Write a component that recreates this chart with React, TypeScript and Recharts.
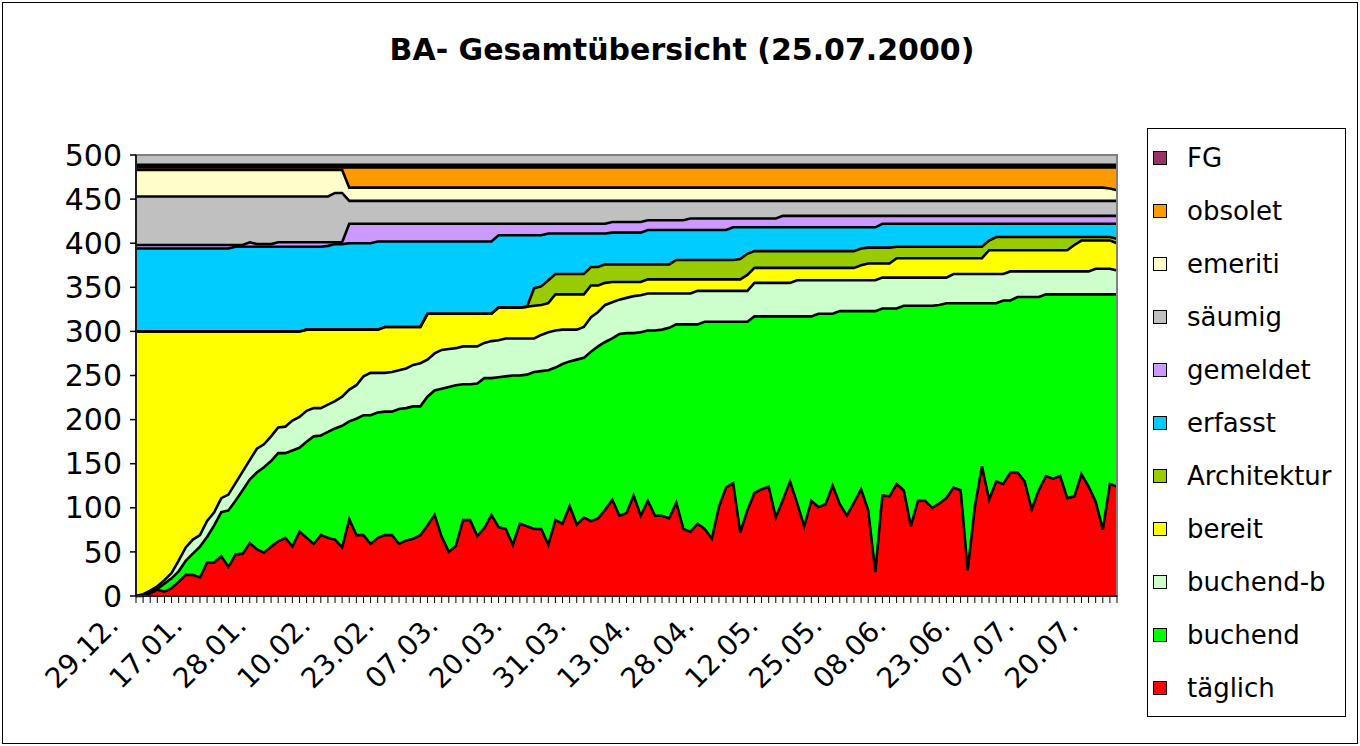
import React from "react";
import { AreaChart, Area, XAxis, YAxis, CartesianGrid, ReferenceArea } from "recharts";

const FONT = "'DejaVu Sans', Verdana, sans-serif";

// Arbeitstage 29.12.1999 - 25.07.2000
const dates = [
	"29.12.", "30.12.", "03.01.", "04.01.", "05.01.", "10.01.", "11.01.", "12.01.", "14.01.", "17.01.",
	"18.01.", "19.01.", "20.01.", "21.01.", "24.01.", "25.01.", "26.01.", "27.01.", "28.01.", "31.01.",
	"01.02.", "02.02.", "03.02.", "04.02.", "07.02.", "08.02.", "09.02.", "10.02.", "11.02.", "14.02.",
	"15.02.", "16.02.", "17.02.", "18.02.", "21.02.", "22.02.", "23.02.", "24.02.", "25.02.", "28.02.",
	"29.02.", "01.03.", "02.03.", "03.03.", "06.03.", "07.03.", "08.03.", "09.03.", "10.03.", "13.03.",
	"14.03.", "15.03.", "16.03.", "17.03.", "20.03.", "21.03.", "22.03.", "23.03.", "24.03.", "27.03.",
	"28.03.", "29.03.", "30.03.", "31.03.", "03.04.", "04.04.", "05.04.", "06.04.", "07.04.", "10.04.",
	"11.04.", "12.04.", "13.04.", "14.04.", "17.04.", "18.04.", "19.04.", "20.04.", "25.04.", "26.04.",
	"27.04.", "28.04.", "02.05.", "03.05.", "04.05.", "05.05.", "08.05.", "09.05.", "10.05.", "11.05.",
	"12.05.", "15.05.", "16.05.", "17.05.", "18.05.", "19.05.", "22.05.", "23.05.", "24.05.", "25.05.",
	"26.05.", "29.05.", "30.05.", "31.05.", "02.06.", "05.06.", "06.06.", "07.06.", "08.06.", "09.06.",
	"13.06.", "14.06.", "15.06.", "16.06.", "19.06.", "20.06.", "21.06.", "23.06.", "26.06.", "27.06.",
	"28.06.", "29.06.", "30.06.", "03.07.", "04.07.", "05.07.", "07.07.", "10.07.", "11.07.", "12.07.",
	"13.07.", "14.07.", "17.07.", "18.07.", "19.07.", "20.07.", "21.07.", "24.07.", "25.07.",
];

const tickLabels = [
	"29.12.", "17.01.", "28.01.", "10.02.", "23.02.", "07.03.", "20.03.", "31.03.",
	"13.04.", "28.04.", "12.05.", "25.05.", "08.06.", "23.06.", "07.07.", "20.07.",
];

const yTicks = [0, 50, 100, 150, 200, 250, 300, 350, 400, 450, 500];

const taeglich = [
	0, 0, 3, 7, 5, 9, 16, 24, 24, 21,
	38, 38, 45, 33, 47, 48, 60, 53, 49, 56,
	62, 66, 56, 73, 66, 59, 69, 66, 64, 55,
	87, 69, 69, 59, 66, 69, 69, 59, 63, 65,
	69, 80, 92, 67, 50, 57, 86, 86, 68, 77,
	92, 78, 76, 58, 82, 79, 76, 76, 58, 86,
	82, 102, 81, 89, 85, 88, 98, 109, 91, 94,
	114, 91, 108, 91, 91, 88, 106, 76, 73, 82,
	76, 65, 101, 123, 128, 72, 97, 117, 121, 124,
	89, 109, 130, 105, 79, 108, 101, 104, 125, 104,
	91, 106, 121, 97, 27, 114, 113, 127, 120, 79,
	108, 108, 100, 105, 111, 123, 120, 29, 101, 147,
	109, 130, 127, 140, 140, 130, 98, 120, 136, 133,
	136, 111, 113, 138, 124, 107, 75, 127, 124,
];

const buchend = [
	0, 1, 1, 1, 9, 11, 12, 16, 24, 35,
	29, 42, 50, 64, 61, 72, 72, 87, 97, 97,
	100, 96, 109, 95, 109, 122, 113, 120, 126, 138,
	111, 132, 136, 146, 142, 140, 140, 153, 150, 150,
	146, 146, 141, 168, 187, 182, 154, 154, 173, 170,
	155, 170, 173, 192, 168, 172, 178, 179, 198, 173,
	181, 164, 187, 181, 192, 195, 190, 183, 206, 204,
	184, 208, 193, 210, 211, 216, 202, 232, 235, 226,
	235, 246, 210, 188, 183, 239, 214, 200, 196, 193,
	228, 208, 187, 212, 238, 209, 219, 216, 195, 219,
	232, 217, 202, 226, 296, 212, 213, 199, 209, 250,
	221, 221, 229, 225, 221, 209, 212, 303, 231, 185,
	223, 202, 208, 195, 199, 209, 241, 219, 206, 209,
	206, 231, 229, 204, 218, 235, 267, 215, 218,
];

const buchendB = [
	0, 1, 2, 3, 4, 6, 12, 15, 16, 13,
	18, 15, 16, 18, 20, 21, 22, 27, 26, 28,
	29, 30, 34, 35, 35, 32, 31, 31, 31, 33,
	36, 38, 44, 48, 45, 44, 45, 44, 45, 47,
	49, 42, 42, 44, 43, 42, 43, 43, 42, 40,
	42, 42, 43, 42, 42, 41, 38, 41, 43, 42,
	39, 36, 34, 35, 39, 39, 42, 41, 39, 40,
	42, 42, 42, 42, 41, 39, 35, 35, 35, 38,
	35, 35, 35, 35, 35, 35, 35, 38, 38, 38,
	38, 38, 38, 41, 41, 41, 38, 38, 38, 35,
	35, 35, 35, 35, 35, 35, 35, 35, 32, 32,
	32, 32, 32, 31, 29, 33, 33, 33, 33, 33,
	33, 33, 30, 33, 29, 29, 29, 29, 26, 26,
	26, 26, 26, 26, 26, 29, 29, 29, 27,
];

const bereit = [
	300, 298, 294, 289, 282, 274, 260, 245, 236, 231,
	215, 205, 189, 185, 172, 159, 146, 133, 128, 119,
	109, 108, 101, 97, 92, 89, 89, 85, 81, 76,
	68, 63, 53, 49, 49, 52, 51, 49, 47, 43,
	41, 52, 45, 41, 40, 39, 37, 37, 37, 33,
	31, 37, 35, 35, 35, 36, 37, 34, 33, 41,
	40, 40, 40, 37, 36, 30, 25, 23, 20, 18,
	16, 15, 16, 16, 16, 16, 16, 16, 16, 13,
	13, 13, 13, 13, 13, 13, 18, 17, 17, 17,
	17, 17, 17, 14, 14, 14, 14, 14, 14, 14,
	14, 14, 17, 19, 19, 16, 16, 22, 22, 22,
	22, 22, 22, 22, 22, 18, 18, 18, 18, 18,
	27, 27, 27, 24, 24, 24, 24, 24, 24, 24,
	24, 24, 30, 35, 35, 32, 32, 32, 31,
];

const architektur = [
	0, 0, 0, 0, 0, 0, 0, 0, 0, 0,
	0, 0, 0, 0, 0, 0, 0, 0, 0, 0,
	0, 0, 0, 0, 0, 0, 0, 0, 0, 0,
	0, 0, 0, 0, 0, 0, 0, 0, 0, 0,
	0, 0, 0, 0, 0, 0, 0, 0, 0, 0,
	0, 0, 0, 0, 0, 0, 20, 21, 26, 23,
	23, 23, 23, 23, 21, 21, 21, 20, 20, 20,
	20, 20, 17, 17, 17, 17, 22, 22, 22, 22,
	22, 22, 22, 22, 22, 23, 24, 19, 19, 19,
	19, 19, 19, 19, 19, 19, 19, 19, 19, 19,
	19, 19, 19, 18, 18, 18, 18, 13, 13, 13,
	13, 13, 13, 13, 13, 13, 13, 13, 13, 13,
	11, 15, 15, 15, 15, 15, 15, 15, 15, 15,
	15, 15, 9, 4, 4, 4, 4, 4, 5,
];

const erfasst = [
	94, 94, 94, 94, 94, 94, 94, 94, 94, 94,
	94, 94, 94, 94, 96, 96, 96, 96, 96, 96,
	96, 96, 96, 96, 94, 94, 94, 95, 97, 97,
	98, 98, 98, 98, 100, 97, 97, 97, 97, 97,
	97, 82, 82, 82, 82, 82, 82, 82, 82, 82,
	82, 82, 82, 82, 82, 81, 60, 58, 53, 46,
	46, 46, 46, 46, 38, 38, 35, 36, 36, 36,
	36, 36, 39, 39, 39, 39, 34, 34, 34, 34,
	34, 34, 34, 34, 37, 36, 30, 27, 27, 27,
	27, 27, 27, 27, 27, 27, 27, 27, 27, 27,
	27, 27, 24, 23, 23, 27, 27, 26, 26, 26,
	26, 26, 26, 26, 26, 26, 26, 26, 26, 26,
	19, 15, 15, 15, 15, 15, 15, 15, 15, 15,
	15, 15, 15, 15, 15, 15, 15, 15, 17,
];

const gemeldet = [
	4, 4, 4, 4, 4, 4, 4, 4, 4, 4,
	4, 4, 4, 4, 2, 2, 5, 3, 3, 3,
	5, 5, 5, 5, 5, 5, 5, 4, 2, 2,
	22, 22, 22, 22, 20, 20, 20, 20, 20, 20,
	20, 20, 20, 20, 20, 20, 20, 20, 20, 20,
	20, 13, 13, 13, 13, 13, 13, 13, 11, 11,
	11, 11, 11, 11, 11, 11, 11, 12, 12, 12,
	12, 12, 11, 11, 11, 11, 11, 11, 13, 13,
	13, 13, 13, 13, 10, 10, 10, 10, 10, 10,
	10, 13, 13, 13, 13, 13, 13, 13, 13, 13,
	13, 13, 13, 13, 13, 9, 9, 9, 9, 9,
	9, 9, 9, 9, 9, 9, 9, 9, 9, 9,
	9, 9, 9, 9, 9, 9, 9, 9, 9, 9,
	9, 9, 9, 9, 9, 9, 9, 9, 9,
];

const saeumig = [
	55, 55, 55, 55, 55, 55, 55, 55, 55, 55,
	55, 55, 55, 55, 55, 55, 52, 54, 54, 54,
	52, 52, 52, 52, 52, 52, 52, 52, 56, 56,
	26, 26, 26, 26, 26, 26, 26, 26, 26, 26,
	26, 26, 26, 26, 26, 26, 26, 26, 26, 26,
	26, 26, 26, 26, 26, 26, 26, 26, 26, 26,
	26, 26, 26, 26, 26, 26, 26, 24, 24, 24,
	24, 24, 22, 22, 22, 22, 22, 22, 20, 20,
	20, 20, 20, 20, 20, 20, 20, 20, 20, 20,
	20, 17, 17, 17, 17, 17, 17, 17, 17, 17,
	17, 17, 17, 17, 17, 17, 17, 17, 17, 17,
	17, 17, 17, 17, 17, 17, 17, 17, 17, 17,
	17, 17, 17, 17, 17, 17, 17, 17, 17, 17,
	17, 17, 17, 17, 17, 17, 17, 17, 17,
];

const emeriti = [
	30, 30, 30, 30, 30, 30, 30, 30, 30, 30,
	30, 30, 30, 30, 30, 30, 30, 30, 30, 30,
	30, 30, 30, 30, 30, 30, 30, 30, 26, 26,
	15, 15, 15, 15, 15, 15, 15, 15, 15, 15,
	15, 15, 15, 15, 15, 15, 15, 15, 15, 15,
	15, 15, 15, 15, 15, 15, 15, 15, 15, 15,
	15, 15, 15, 15, 15, 15, 15, 15, 15, 15,
	15, 15, 15, 15, 15, 15, 15, 15, 15, 15,
	15, 15, 15, 15, 15, 15, 15, 15, 15, 15,
	15, 15, 15, 15, 15, 15, 15, 15, 15, 15,
	15, 15, 15, 15, 15, 15, 15, 15, 15, 15,
	15, 15, 15, 15, 15, 15, 15, 15, 15, 15,
	15, 15, 15, 15, 15, 15, 15, 15, 15, 15,
	15, 15, 15, 15, 15, 15, 15, 14, 12,
];

const obsolet = [
	3, 3, 3, 3, 3, 3, 3, 3, 3, 3,
	3, 3, 3, 3, 3, 3, 3, 3, 3, 3,
	3, 3, 3, 3, 3, 3, 3, 3, 3, 3,
	23, 23, 23, 23, 23, 23, 23, 23, 23, 23,
	23, 23, 23, 23, 23, 23, 23, 23, 23, 23,
	23, 23, 23, 23, 23, 23, 23, 23, 23, 23,
	23, 23, 23, 23, 23, 23, 23, 23, 23, 23,
	23, 23, 23, 23, 23, 23, 23, 23, 23, 23,
	23, 23, 23, 23, 23, 23, 23, 23, 23, 23,
	23, 23, 23, 23, 23, 23, 23, 23, 23, 23,
	23, 23, 23, 23, 23, 23, 23, 23, 23, 23,
	23, 23, 23, 23, 23, 23, 23, 23, 23, 23,
	23, 23, 23, 23, 23, 23, 23, 23, 23, 23,
	23, 23, 23, 23, 23, 23, 23, 24, 26,
];

const fg = [
	3, 3, 3, 3, 3, 3, 3, 3, 3, 3,
	3, 3, 3, 3, 3, 3, 3, 3, 3, 3,
	3, 3, 3, 3, 3, 3, 3, 3, 3, 3,
	3, 3, 3, 3, 3, 3, 3, 3, 3, 3,
	3, 3, 3, 3, 3, 3, 3, 3, 3, 3,
	3, 3, 3, 3, 3, 3, 3, 3, 3, 3,
	3, 3, 3, 3, 3, 3, 3, 3, 3, 3,
	3, 3, 3, 3, 3, 3, 3, 3, 3, 3,
	3, 3, 3, 3, 3, 3, 3, 3, 3, 3,
	3, 3, 3, 3, 3, 3, 3, 3, 3, 3,
	3, 3, 3, 3, 3, 3, 3, 3, 3, 3,
	3, 3, 3, 3, 3, 3, 3, 3, 3, 3,
	3, 3, 3, 3, 3, 3, 3, 3, 3, 3,
	3, 3, 3, 3, 3, 3, 3, 3, 3,
];

// stack order, bottom first
const series = [
	{ key: "taeglich", name: "täglich", color: "#ff0000", values: taeglich },
	{ key: "buchend", name: "buchend", color: "#00ff00", values: buchend },
	{ key: "buchendB", name: "buchend-b", color: "#ccffcc", values: buchendB },
	{ key: "bereit", name: "bereit", color: "#ffff00", values: bereit },
	{ key: "architektur", name: "Architektur", color: "#99cc00", values: architektur },
	{ key: "erfasst", name: "erfasst", color: "#00ccff", values: erfasst },
	{ key: "gemeldet", name: "gemeldet", color: "#cc99ff", values: gemeldet },
	{ key: "saeumig", name: "säumig", color: "#c0c0c0", values: saeumig },
	{ key: "emeriti", name: "emeriti", color: "#ffffcc", values: emeriti },
	{ key: "obsolet", name: "obsolet", color: "#ff9900", values: obsolet },
	{ key: "fg", name: "FG", color: "#993366", values: fg },
];

const data = dates.map((date, i) => {
	const row: Record<string, string | number> = { date };
	series.forEach((s) => {
		row[s.key] = s.values[i];
	});
	return row;
});

function DateTick(props: any) {
	const { x, y, payload } = props;
	if (!tickLabels.includes(payload.value)) return null;
	return (
		<g transform={`translate(${x},${y})`}>
			<text
				x={-16}
				y={24}
				textAnchor="end"
				transform="rotate(-45, -16, 24)"
				fontFamily={FONT}
				fontSize={28}
				fill="#000"
			>
				{payload.value}
			</text>
		</g>
	);
}

function ChartLegend() {
	const items = [...series].reverse();
	return (
		<div
			style={{
				position: "absolute",
				left: 1147,
				top: 128,
				width: 197,
				height: 587,
				border: "1px solid #000",
				background: "#fff",
				fontFamily: FONT,
			}}
		>
			{items.map((s, i) => (
				<div
					key={s.key}
					style={{
						position: "absolute",
						left: 5,
						top: 14 + i * 53,
						height: 30,
						display: "flex",
						alignItems: "center",
						whiteSpace: "nowrap",
					}}
				>
					<span
						style={{
							display: "inline-block",
							width: 12,
							height: 12,
							background: s.color,
							border: "1.5px solid #000",
							marginRight: 20,
						}}
					/>
					<span style={{ fontSize: 26, color: "#000" }}>{s.name}</span>
				</div>
			))}
		</div>
	);
}

export default function App() {
	return (
		<div style={{ position: "absolute", left: 0, top: 0, width: 1360, height: 746, background: "#fff" }}>
			<div
				style={{
					position: "absolute",
					left: 2,
					top: 2,
					width: 1354,
					height: 740,
					border: "1px solid #000",
				}}
			/>
			<div
				style={{
					position: "absolute",
					left: 0,
					top: 32,
					width: 1364,
					textAlign: "center",
					fontFamily: FONT,
					fontWeight: "bold",
					fontSize: 30,
					lineHeight: "36px",
					color: "#000",
				}}
			>
				BA- Gesamtübersicht (25.07.2000)
			</div>
			<div style={{ position: "absolute", left: 0, top: 0 }}>
				<AreaChart
					width={1360}
					height={746}
					data={data}
					margin={{ top: 155, right: 243, bottom: 10, left: 0 }}
				>
					<CartesianGrid fill="#c0c0c0" stroke="none" horizontal={false} vertical={false} />
					<XAxis
						dataKey="date"
						interval={0}
						tick={<DateTick />}
						tickSize={7}
						tickMargin={0}
						tickLine={{ stroke: "#000", strokeWidth: 1 }}
						axisLine={{ stroke: "#000", strokeWidth: 1.5 }}
						height={140}
					/>
					<YAxis
						domain={[0, 500]}
						ticks={yTicks}
						interval={0}
						width={136}
						tickSize={6}
						tickMargin={8}
						tickLine={{ stroke: "#000", strokeWidth: 1.5 }}
						axisLine={{ stroke: "#000", strokeWidth: 1.5 }}
						tick={{ fontFamily: FONT, fontSize: 30, fill: "#000" }}
					/>
					{/* fills */}
					{series.map((s) => (
						<Area
							key={s.key}
							type="linear"
							dataKey={s.key}
							name={s.name}
							stackId="fill"
							fill={s.color}
							fillOpacity={1}
							stroke="none"
							dot={false}
							activeDot={false}
							isAnimationActive={false}
						/>
					))}
					{/* black borders drawn over all fills */}
					{series.map((s) => (
						<Area
							key={s.key + "-line"}
							type="linear"
							dataKey={s.key}
							stackId="line"
							fill="none"
							stroke="#000"
							strokeWidth={2.6}
							strokeLinejoin="miter"
							dot={false}
							activeDot={false}
							isAnimationActive={false}
						/>
					))}
					<ReferenceArea
						x1={dates[0]}
						x2={dates[dates.length - 1]}
						y1={0}
						y2={500}
						fill="none"
						stroke="#808080"
						strokeWidth={2}
					/>
				</AreaChart>
			</div>
			<ChartLegend />
		</div>
	);
}
